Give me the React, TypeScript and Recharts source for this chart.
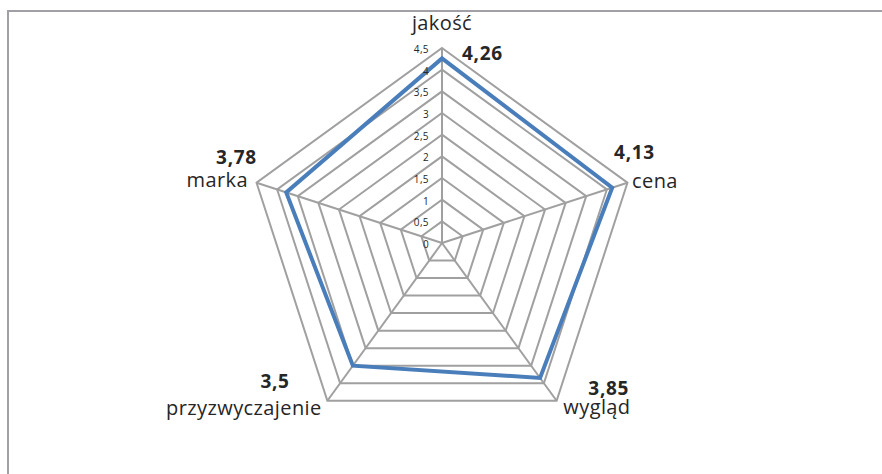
import React from 'react';
import { RadarChart, Radar, PolarGrid, PolarAngleAxis, PolarRadiusAxis } from 'recharts';

const categories = ['jakość', 'cena', 'wygląd', 'przyzwyczajenie', 'marka'];
const values = [4.26, 4.13, 3.85, 3.5, 3.78];
const radiusTicks = [0, 0.5, 1, 1.5, 2, 2.5, 3, 3.5, 4, 4.5];

const data = categories.map((c, i) => ({ name: c, value: values[i] }));

const fmt = (v: number) => String(v).replace('.', ',');

// label layout per category: [anchor, dx, dy] for name and for value
const nameLayout: [string, number, number][] = [
  ['middle', 0, -10],
  ['start', -3, 8],
  ['start', 2, 7],
  ['end', -1, 8],
  ['end', -1, 7],
];
const valueLayout: [string, number, number][] = [
  ['start', 20, 20],
  ['start', -21, -21],
  ['start', 27, -12],
  ['end', -33, -19],
  ['end', 8, -16],
];

const FONT = '"Open Sans", sans-serif';
const TEXT = '#262626';

const AngleTick = (props: any) => {
  const { x, y, payload, index } = props;
  const i = typeof index === 'number' ? index : categories.indexOf(payload.value);
  const nl = nameLayout[i];
  const vl = valueLayout[i];
  return (
    <g>
      <text x={x + nl[1]} y={y + nl[2]} textAnchor={nl[0] as any} fontFamily={FONT} fontSize={20} letterSpacing={0.4} fill={TEXT}>
        {payload.value}
      </text>
      <text x={x + vl[1]} y={y + vl[2]} textAnchor={vl[0] as any} fontFamily={FONT} fontSize={19} fontWeight="bold" letterSpacing={0.7} fill={TEXT}>
        {fmt(values[i])}
      </text>
    </g>
  );
};

const RadiusTick = (props: any) => {
  const { x, y, payload } = props;
  return (
    <text x={x - 13} y={y + 5} textAnchor="end" fontFamily={FONT} fontSize={10} letterSpacing={0.4} fill={TEXT}>
      {fmt(payload.value)}
    </text>
  );
};

export default function App() {
  return (
    <div style={{ position: 'absolute', left: 0, top: 0, width: 882, height: 474, overflow: 'hidden', background: '#fff' }}>
      <div style={{ position: 'absolute', left: 7, top: 10, width: 1000, height: 1000, borderTop: '2px solid #a0a0a6', borderLeft: '2px solid #a0a0a6' }} />
      <div style={{ position: 'absolute', left: 0, top: 0 }}>
        <RadarChart width={882} height={474} data={data} cx={442} cy={243} outerRadius={195} startAngle={90} endAngle={-270} margin={{ top: 0, right: 0, bottom: 0, left: 0 }}>
          <PolarGrid gridType="polygon" stroke="#a0a0a0" strokeWidth={2} />
          <PolarAngleAxis dataKey="name" tick={<AngleTick />} tickLine={false} axisLine={false} />
          <PolarRadiusAxis angle={90} type="number" domain={[0, 4.5]} allowDataOverflow={true} allowDecimals={true} ticks={radiusTicks as any} tickCount={10} tick={<RadiusTick />} axisLine={false} tickLine={false} />
          <Radar dataKey="value" stroke="#4a7ebb" strokeWidth={4} fill="none" fillOpacity={0} dot={false} isAnimationActive={false} />
        </RadarChart>
      </div>
    </div>
  );
}
